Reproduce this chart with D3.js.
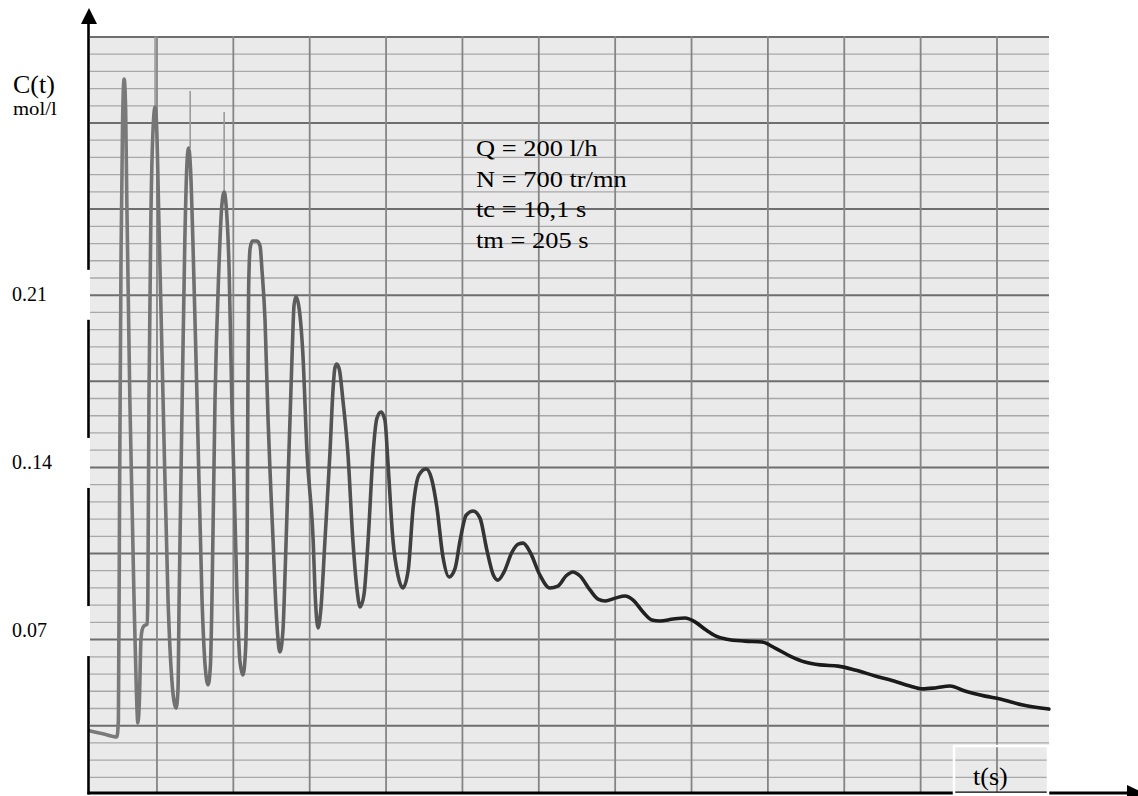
<!DOCTYPE html>
<html lang="fr">
<head>
<meta charset="UTF-8" />
<title>C(t) - enregistrement</title>
<script src="https://d3js.org/d3.v7.min.js"></script>
<style>
  html, body { margin: 0; background: #fff; }
  svg { display: block; font-family: "Liberation Serif", "Times New Roman", serif; }
</style>
</head>
<body>
<svg id="chart" width="1138" height="796"></svg>
<script>
// recorder trace: time (s) and concentration (mol/l)
const tSec = [
  2.5, 6.1, 9.5, 9.9, 10.2, 10.6, 11.0, 11.4, 11.8, 12.1,
  12.9, 14.0, 14.6, 15.0, 15.4, 15.8, 16.1, 16.6, 17.4, 17.6,
  17.9, 18.4, 19.1, 19.5, 19.9, 20.5, 21.6, 22.9, 23.9, 25.0,
  25.5, 25.8, 26.6, 27.3, 27.9, 28.3, 28.8, 29.4, 30.5, 31.8,
  32.6, 33.4, 34.0, 34.4, 35.2, 36.2, 37.0, 37.6, 38.1, 38.9,
  39.6, 41.0, 41.7, 42.5, 43.2, 43.6, 43.8, 44.0, 44.4, 45.0,
  46.2, 47.0, 47.5, 48.3, 49.1, 49.6, 50.4, 51.2, 52.2, 53.0,
  53.6, 55.4, 55.9, 56.4, 57.1, 58.2, 59.3, 60.9,
  61.5, 62.2, 62.9, 64.0, 65.3, 66.1, 66.6, 67.1, 67.8, 68.7,
  70.0, 71.3, 72.4, 73.2, 74.2, 75.3, 76.6, 77.6, 78.7, 79.7,
  80.5, 81.8, 83.1, 84.4, 85.8, 87.1, 88.6, 90.5, 92.0, 93.3,
  94.9, 96.5, 98.1, 99.4, 101.0, 102.8, 104.6, 106.4, 108.0, 109.3,
  110.9, 113.0, 114.6, 115.9, 117.7, 120.3, 122.9, 125.0, 127.1, 128.9,
  130.8, 133.4, 135.5, 137.4, 140.0, 142.6, 144.7, 147.3, 149.6, 151.7,
  155.2, 158.3, 160.9, 163.8, 166.4, 169.3, 174.0, 178.5, 181.9, 185.8,
  189.7, 193.7, 198.4, 202.8, 208.1, 213.0, 217.2, 220.4, 223.8, 227.7,
  231.6, 236.9, 240.8, 246.8, 253.6
];
const conc = [
  0.0280, 0.0267, 0.0255, 0.0326, 0.1242, 0.2282, 0.2824, 0.2994, 0.2865, 0.2490,
  0.1657, 0.0825, 0.0450, 0.0313, 0.0409, 0.0659, 0.0700, 0.0717, 0.0725, 0.0825,
  0.1657, 0.2407, 0.2824, 0.2878, 0.2803, 0.2407, 0.1657, 0.0825, 0.0492, 0.0375,
  0.0450, 0.0825, 0.1657, 0.2324, 0.2657, 0.2707, 0.2616, 0.2324, 0.1657, 0.0825,
  0.0554, 0.0472, 0.0554, 0.0825, 0.1657, 0.2199, 0.2470, 0.2524, 0.2470, 0.2199,
  0.1657, 0.0825, 0.0575, 0.0513, 0.0617, 0.0992, 0.1657, 0.2115, 0.2290, 0.2320,
  0.2320, 0.2299, 0.2199, 0.1990, 0.1574, 0.1366, 0.1075, 0.0783, 0.0609, 0.0700,
  0.0960, 0.1853, 0.2053, 0.2087, 0.2053, 0.1853, 0.1437, 0.1075,
  0.0825, 0.0709, 0.0783, 0.1075, 0.1437, 0.1699, 0.1791, 0.1808, 0.1782, 0.1657,
  0.1437, 0.1075, 0.0867, 0.0796, 0.0846, 0.1075, 0.1437, 0.1582, 0.1608, 0.1574,
  0.1395, 0.1075, 0.0929, 0.0875, 0.0950, 0.1212, 0.1345, 0.1371, 0.1325, 0.1212,
  0.1004, 0.0921, 0.0958, 0.1075, 0.1179, 0.1196, 0.1166, 0.1033, 0.0933, 0.0908,
  0.0942, 0.1025, 0.1058, 0.1062, 0.1025, 0.0929, 0.0875, 0.0883, 0.0925, 0.0942,
  0.0925, 0.0867, 0.0829, 0.0821, 0.0833, 0.0842, 0.0825, 0.0775, 0.0742, 0.0738,
  0.0746, 0.0750, 0.0734, 0.0700, 0.0675, 0.0662, 0.0654, 0.0650, 0.0625, 0.0592,
  0.0567, 0.0555, 0.0550, 0.0534, 0.0509, 0.0488, 0.0467, 0.0455, 0.0459, 0.0467,
  0.0446, 0.0425, 0.0413, 0.0388, 0.0371
];

// faint pen overshoot above the first peaks
const ghostT = [19.5, 28.7, 37.6];
const ghostLow = [0.2878, 0.2707, 0.2524];
const ghostHigh = [0.3170, 0.2944, 0.2857];

const yTicks = [0.21, 0.14, 0.07];
const yTickText = ['0.21', '0..14', '0.07'];
const xGridT = d3.range(20, 241, 20);       // heavy vertical lines of the paper
const paperRows = d3.range(0, 44);          // fine horizontal rulings
const notes = ['Q = 200 l/h', 'N = 700 tr/mn', 'tc = 10,1 s', 'tm = 205 s'];

const svg = d3.select('#chart');
const x = d3.scaleLinear().domain([0, 240]).range([80.6, 997]);
const y = d3.scaleLinear().domain([0, 0.21]).range([798.2, 293.8]);
const rowY = d3.scaleLinear().domain([0, 1]).range([36.9, 54.12]);

const paper = { left: 90, right: 1049, top: 36, bottom: 793 };

// ----- paper -----
const defs = svg.append('defs');
const grad = defs.append('linearGradient')
  .attr('id', 'ink')
  .attr('gradientUnits', 'userSpaceOnUse')
  .attr('x1', x(10)).attr('x2', x(160)).attr('y1', 0).attr('y2', 0);
grad.append('stop').attr('offset', 0).attr('stop-color', '#7a7a7a');
grad.append('stop').attr('offset', 0.25).attr('stop-color', '#666');
grad.append('stop').attr('offset', 0.55).attr('stop-color', '#3a3a3a');
grad.append('stop').attr('offset', 1).attr('stop-color', '#1a1a1a');

svg.append('rect')
  .attr('x', paper.left).attr('y', paper.top)
  .attr('width', paper.right - paper.left)
  .attr('height', paper.bottom - paper.top)
  .attr('fill', '#eaeaea');

svg.append('g')
  .selectAll('line')
  .data(paperRows)
  .join('line')
    .attr('x1', paper.left).attr('x2', paper.right)
    .attr('y1', d => rowY(d)).attr('y2', d => rowY(d))
    .attr('stroke', d => d % 5 === 0 ? '#6e6e6e' : '#a8a8a8')
    .attr('stroke-width', d => d % 5 === 0 ? 2 : 1.3);

svg.append('g')
  .selectAll('line')
  .data(xGridT)
  .join('line')
    .attr('x1', d => x(d)).attr('x2', d => x(d))
    .attr('y1', paper.top).attr('y2', paper.bottom)
    .attr('stroke', '#858585')
    .attr('stroke-width', 1.8);

// ----- trace -----
const trace = tSec.map((t, i) => ({ t, c: conc[i] }));

svg.append('g')
  .selectAll('line')
  .data(ghostT)
  .join('line')
    .attr('x1', d => x(d)).attr('x2', d => x(d))
    .attr('y1', (d, i) => y(ghostHigh[i])).attr('y2', (d, i) => y(ghostLow[i]))
    .attr('stroke', '#9a9a9a')
    .attr('stroke-width', 1.6);

const line = d3.line()
  .x(d => x(d.t))
  .y(d => y(d.c))
  .curve(d3.curveMonotoneX);

svg.append('path')
  .datum(trace)
  .attr('d', line)
  .attr('fill', 'none')
  .attr('stroke', 'url(#ink)')
  .attr('stroke-width', 3.6)
  .attr('stroke-linejoin', 'round')
  .attr('stroke-linecap', 'round');

// ----- axes -----
svg.append('line')
  .attr('x1', 88.5).attr('x2', 88.5).attr('y1', 22).attr('y2', 794.5)
  .attr('stroke', '#000').attr('stroke-width', 2.6);
svg.append('path')
  .attr('d', 'M89,8 L81,24 L97,24 Z')
  .attr('fill', '#000');

svg.append('line')
  .attr('x1', 87.5).attr('x2', 1130).attr('y1', 793).attr('y2', 793)
  .attr('stroke', '#000').attr('stroke-width', 2.8);
svg.append('path')
  .attr('d', 'M1144,793 L1127,785 L1127,801 Z')
  .attr('fill', '#000');

// label boxes cut the vertical axis
svg.append('g')
  .selectAll('rect')
  .data(yTicks)
  .join('rect')
    .attr('x', 0).attr('y', d => y(d) - 24)
    .attr('width', 90).attr('height', 50)
    .attr('fill', '#fff');

svg.append('g')
  .selectAll('text')
  .data(yTicks)
  .join('text')
    .attr('x', 12)
    .attr('y', d => y(d))
    .attr('dy', '0.35em')
    .attr('font-size', 20)
    .attr('fill', '#000')
    .text((d, i) => yTickText[i]);

svg.append('text')
  .attr('x', 13).attr('y', 92.5)
  .attr('font-size', 26)
  .text('C(t)');
svg.append('text')
  .attr('transform', 'translate(13,115) scale(1.15,1)')
  .attr('font-size', 18)
  .text('mol/l');

// t(s) box
svg.append('rect')
  .attr('x', 954).attr('y', 746)
  .attr('width', 94).attr('height', 48)
  .attr('fill', 'none')
  .attr('stroke', '#fff')
  .attr('stroke-width', 2.5);
svg.append('text')
  .attr('x', 973).attr('y', 785)
  .attr('font-size', 26)
  .text('t(s)');

// run conditions
svg.append('g')
  .selectAll('text')
  .data(notes)
  .join('text')
    .attr('transform', (d, i) => `translate(476,${156 + i * 30.7}) scale(1.15,1)`)
    .attr('font-size', 23)
    .attr('fill', '#000')
    .text(d => d);
</script>
</body>
</html>
